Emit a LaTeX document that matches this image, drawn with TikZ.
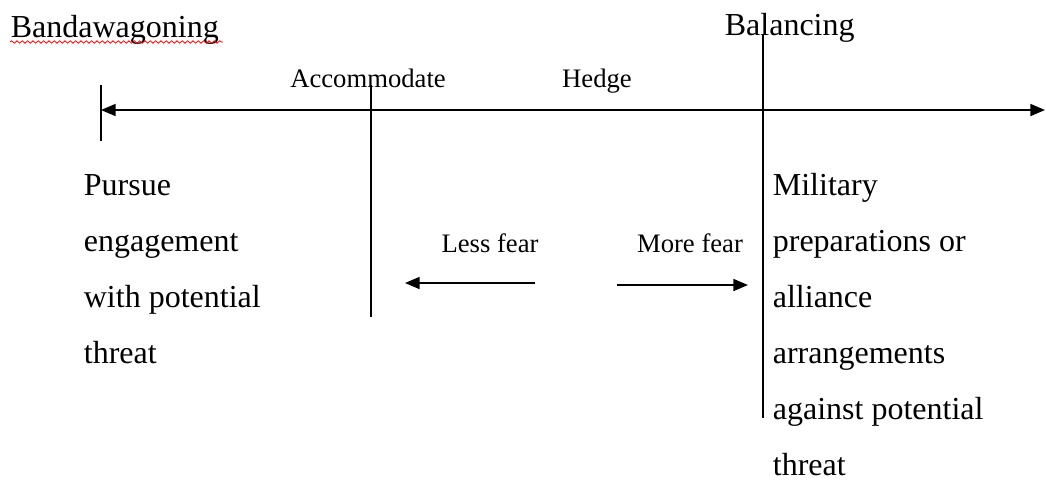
\documentclass[tikz,border=0pt]{standalone}
\usepackage{fontspec}
\setmainfont{Liberation Serif}
\usetikzlibrary{arrows.meta,decorations.pathmorphing}

\begin{document}
\begin{tikzpicture}[x=0.75pt, y=-0.75pt, line width=1.3pt,
    >={Triangle[length=11pt,width=9pt]},
    big/.style={inner sep=0pt, font=\fontsize{24}{42}\selectfont},
    small/.style={inner sep=0pt, font=\fontsize{20}{24}\selectfont},
    block/.style={big, align=left, anchor=base west}]

    \useasboundingbox (0,0) rectangle (1046,480);

    % --- titulos ---
    \node[big, anchor=base west] (band) at (10,37) {Bandawagoning};
    \node[big, anchor=base west] (bal) at (724,35) {Balancing};
    \draw[red, line width=0.6pt, decorate,
          decoration={snake, amplitude=0.9pt, segment length=4pt}]
        (10,42) -- (223,42);

    % --- etiquetas pequenas ---
    \node[small, anchor=base] (acc) at (368,87) {Accommodate};
    \node[small, anchor=base] (hedge) at (597,87) {Hedge};
    \node[small, anchor=base] (less) at (490,252) {Less fear};
    \node[small, anchor=base] (more) at (690,252) {More fear};

    % --- bloques de texto (base = ultima linea) ---
    \node[block] (pursue) at (83,363)
        {Pursue\\engagement\\with potential\\threat};
    \node[block] (military) at (772,475)
        {Military\\preparations or\\alliance\\arrangements\\against potential\\threat};

    % --- puntos ---
    \coordinate (axL) at (101,110);
    \coordinate (axR) at (1045,110);
    \coordinate (tickT) at (101,85);
    \coordinate (tickB) at (101,141);
    \coordinate (accT) at (371,85);
    \coordinate (accB) at (371,317);
    \coordinate (balT) at (763,35);
    \coordinate (balB) at (763,418);
    \coordinate (lessS) at (535,283);
    \coordinate (lessE) at (405,283);
    \coordinate (moreS) at (617,285);
    \coordinate (moreE) at (748,285);

    % --- lineas ---
    \draw[<->] (axL) -- (axR);
    \draw (tickT) -- (tickB);
    \draw (accT) -- (accB);
    \draw (balT) -- (balB);
    \draw[->] (lessS) -- (lessE);
    \draw[->] (moreS) -- (moreE);

\end{tikzpicture}
\end{document}
